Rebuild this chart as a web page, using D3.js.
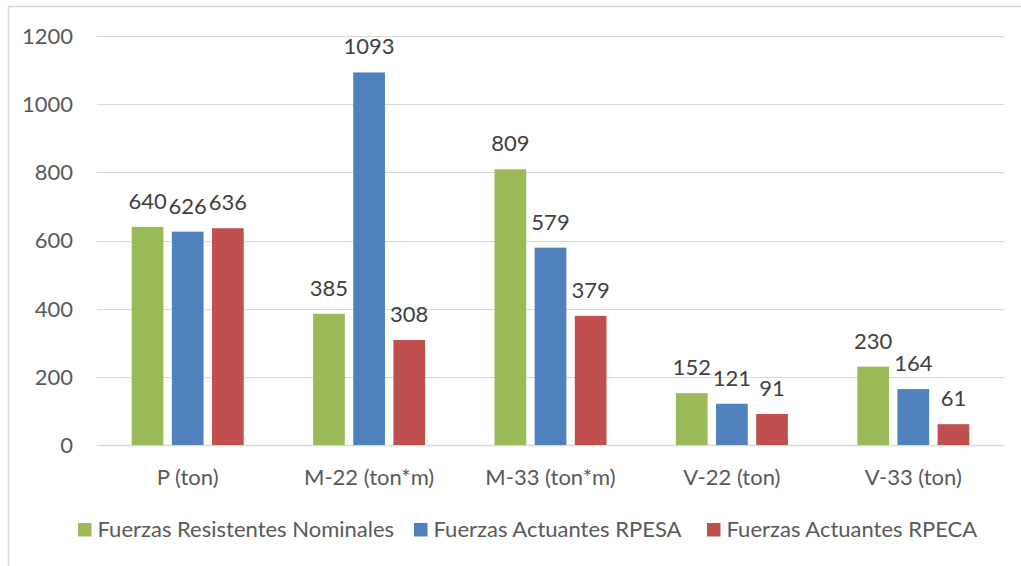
<!DOCTYPE html>
<html>
<head>
<meta charset="utf-8">
<script src="https://cdn.jsdelivr.net/npm/d3@7"></script>
<style>
  html, body { margin: 0; padding: 0; background: #fff; }
  svg text { font-family: Lato, "Open Sans", sans-serif; fill: #595959; }
</style>
</head>
<body>
<svg id="chart" width="1021" height="566"></svg>
<script>
const categories = ["P (ton)", "M-22 (ton*m)", "M-33 (ton*m)", "V-22 (ton)", "V-33 (ton)"];
const seriesNames = ["Fuerzas Resistentes Nominales", "Fuerzas Actuantes RPESA", "Fuerzas Actuantes RPECA"];
const resistentes = [640, 385, 809, 152, 230];
const rpesa = [626, 1093, 579, 121, 164];
const rpeca = [636, 308, 379, 91, 61];
const yTicks = [0, 200, 400, 600, 800, 1000, 1200];
const colors = ["#9BBB59", "#4F81BD", "#C0504D"];

const seriesValues = [resistentes, rpesa, rpeca];
const fontSize = 22;

const svg = d3.select("#chart");

// outer chart frame
svg.append("rect")
  .attr("x", 8.5).attr("y", 6.5)
  .attr("width", 1030).attr("height", 580)
  .attr("fill", "none").attr("stroke", "#d9d9d9").attr("stroke-width", 1.5);

const plot = { left: 97, right: 1004, top: 36, bottom: 445 };

const y = d3.scaleLinear().domain([0, 1200]).range([plot.bottom, plot.top]);
const x0 = d3.scaleBand().domain(categories).range([plot.left, plot.right]).padding(0);
const x1 = d3.scaleBand().domain(seriesNames).range([-56, 56]).paddingInner(0.21);

// gridlines
svg.append("g").selectAll("line").data(yTicks).join("line")
  .attr("x1", plot.left).attr("x2", plot.right)
  .attr("y1", d => Math.round(y(d)) + 0.5).attr("y2", d => Math.round(y(d)) + 0.5)
  .attr("stroke", "#d9d9d9").attr("stroke-width", d => d === 0 ? 1.5 : 1.2);

// y tick labels
svg.append("g").selectAll("text").data(yTicks).join("text")
  .attr("x", 73).attr("y", d => y(d))
  .attr("dy", "0.36em")
  .attr("text-anchor", "end")
  .attr("font-size", fontSize)
  .text(d => d);

// bars and value labels
const groups = svg.append("g").selectAll("g").data(categories).join("g")
  .attr("transform", d => `translate(${x0(d) + x0.bandwidth() / 2},0)`);

const rows = i => seriesNames.map((s, k) => ({ s, k, v: seriesValues[k][i] }));

groups.each(function(c, i) {
  const g = d3.select(this);
  const data = rows(i);
  g.selectAll("rect").data(data).join("rect")
    .attr("x", d => x1(d.s))
    .attr("width", x1.bandwidth())
    .attr("y", d => y(d.v))
    .attr("height", d => y(0) - y(d.v))
    .attr("fill", d => colors[d.k]);
  g.selectAll("text").data(data).join("text")
    .attr("x", d => x1(d.s) + x1.bandwidth() / 2)
    .attr("y", d => y(d.v) - 18)
    .attr("text-anchor", "middle")
    .attr("font-size", fontSize)
    .style("fill", "#404040")
    .text(d => d.v);
});

// category labels
svg.append("g").selectAll("text").data(categories).join("text")
  .attr("x", d => x0(d) + x0.bandwidth() / 2)
  .attr("y", 485)
  .attr("text-anchor", "middle")
  .attr("font-size", fontSize)
  .text(d => d);

// legend
const legend = svg.append("g");
const legendX = [78, 414, 707];
seriesNames.forEach((s, k) => {
  legend.append("rect")
    .attr("x", legendX[k]).attr("y", 523)
    .attr("width", 13.5).attr("height", 13.5)
    .attr("fill", colors[k]);
  legend.append("text")
    .attr("x", legendX[k] + 19.5).attr("y", 537)
    .attr("font-size", fontSize)
    .text(s);
});
</script>
</body>
</html>
